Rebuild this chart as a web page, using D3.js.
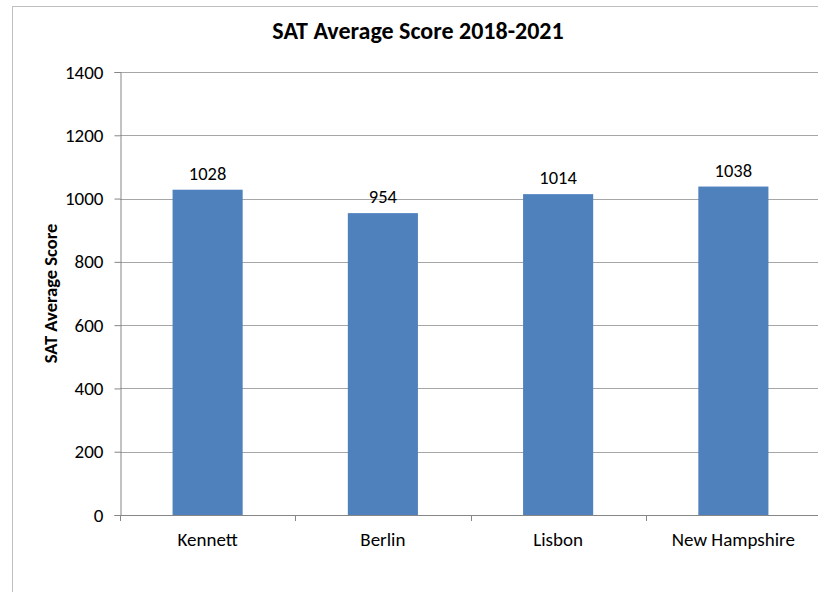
<!DOCTYPE html>
<html><head><meta charset="utf-8">
<script src="https://cdn.jsdelivr.net/npm/d3@7"></script>
<style>
html,body{margin:0;padding:0;background:#fff;overflow:hidden;}
svg{display:block;font-family:Carlito, Calibri, Lato, "Open Sans", sans-serif;}
</style></head>
<body>
<svg id="c" width="818" height="592"></svg>
<script>
const categories = ["Kennett", "Berlin", "Lisbon", "New Hampshire"];
const scores = [1028, 954, 1014, 1038];
const yTicks = [0, 200, 400, 600, 800, 1000, 1200, 1400];
const chartTitle = "SAT Average Score 2018-2021";
const yTitle = "SAT Average Score";

const svg = d3.select("#c");
const plot = {left: 120, right: 821, top: 72, bottom: 515};
const FONT = "Carlito, Calibri, Lato, sans-serif";

// outer chart border
svg.append("rect").attr("x", 12.5).attr("y", 6.5).attr("width", 840).attr("height", 620)
  .attr("fill", "#fff").attr("stroke", "#bfbfbf").attr("stroke-width", 1);

const x = d3.scaleBand().domain(categories).range([plot.left, plot.right])
  .paddingInner(0.6).paddingOuter(0.3);
const y = d3.scaleLinear().domain([0, 1400]).range([plot.bottom, plot.top]);

// gridlines
svg.append("g").selectAll("line").data(yTicks.filter(d => d > 0)).join("line")
  .attr("x1", plot.left).attr("x2", plot.right)
  .attr("y1", d => Math.round(y(d)) + 0.5).attr("y2", d => Math.round(y(d)) + 0.5)
  .attr("stroke", "#a6a6a6").attr("stroke-width", 1);

// y axis
const yAxis = svg.append("g").attr("transform", `translate(${plot.left + 0.5},0)`)
  .call(d3.axisLeft(y).tickValues(yTicks).tickSize(6).tickPadding(11).tickFormat(d3.format("d")));
yAxis.select(".domain").attr("stroke", "#868686");
yAxis.selectAll(".tick line").attr("stroke", "#868686");
yAxis.selectAll(".tick text").attr("font-size", 19).attr("fill", "#000")
  .attr("font-family", FONT);

// bars
svg.append("g").selectAll("rect").data(categories).join("rect")
  .attr("x", d => x(d)).attr("width", x.bandwidth())
  .attr("y", (d, i) => y(scores[i])).attr("height", (d, i) => plot.bottom - y(scores[i]))
  .attr("fill", "#4f81bd");

// x axis
const step = x.step();
const xBoundaries = categories.map((d, i) => plot.left + i * step).concat([plot.right]);
const xa = svg.append("g");
xa.append("line").attr("x1", plot.left).attr("x2", plot.right)
  .attr("y1", plot.bottom + 0.5).attr("y2", plot.bottom + 0.5).attr("stroke", "#868686");
xa.selectAll("line.t").data(xBoundaries).join("line").attr("class", "t")
  .attr("x1", d => Math.round(d) + 0.5).attr("x2", d => Math.round(d) + 0.5)
  .attr("y1", plot.bottom).attr("y2", plot.bottom + 6).attr("stroke", "#868686");
xa.selectAll("text").data(categories).join("text")
  .attr("x", d => x(d) + x.bandwidth() / 2).attr("y", 546)
  .attr("text-anchor", "middle").attr("font-size", 19).attr("fill", "#000").text(d => d);

// value labels
svg.append("g").selectAll("text").data(categories).join("text")
  .attr("x", d => x(d) + x.bandwidth() / 2).attr("y", (d, i) => y(scores[i]) - 10)
  .attr("text-anchor", "middle").attr("font-size", 18.5).attr("fill", "#000")
  .text((d, i) => scores[i]);

// title
svg.append("text").attr("x", 418).attr("y", 39).attr("text-anchor", "middle")
  .attr("font-size", 24).attr("font-weight", "bold").attr("fill", "#000").text(chartTitle);

// y axis title
svg.append("text").attr("transform", `translate(57,${(plot.top + plot.bottom) / 2}) rotate(-90)`)
  .attr("text-anchor", "middle").attr("font-size", 18.5).attr("font-weight", "bold")
  .attr("fill", "#000").text(yTitle);
</script>
</body></html>
